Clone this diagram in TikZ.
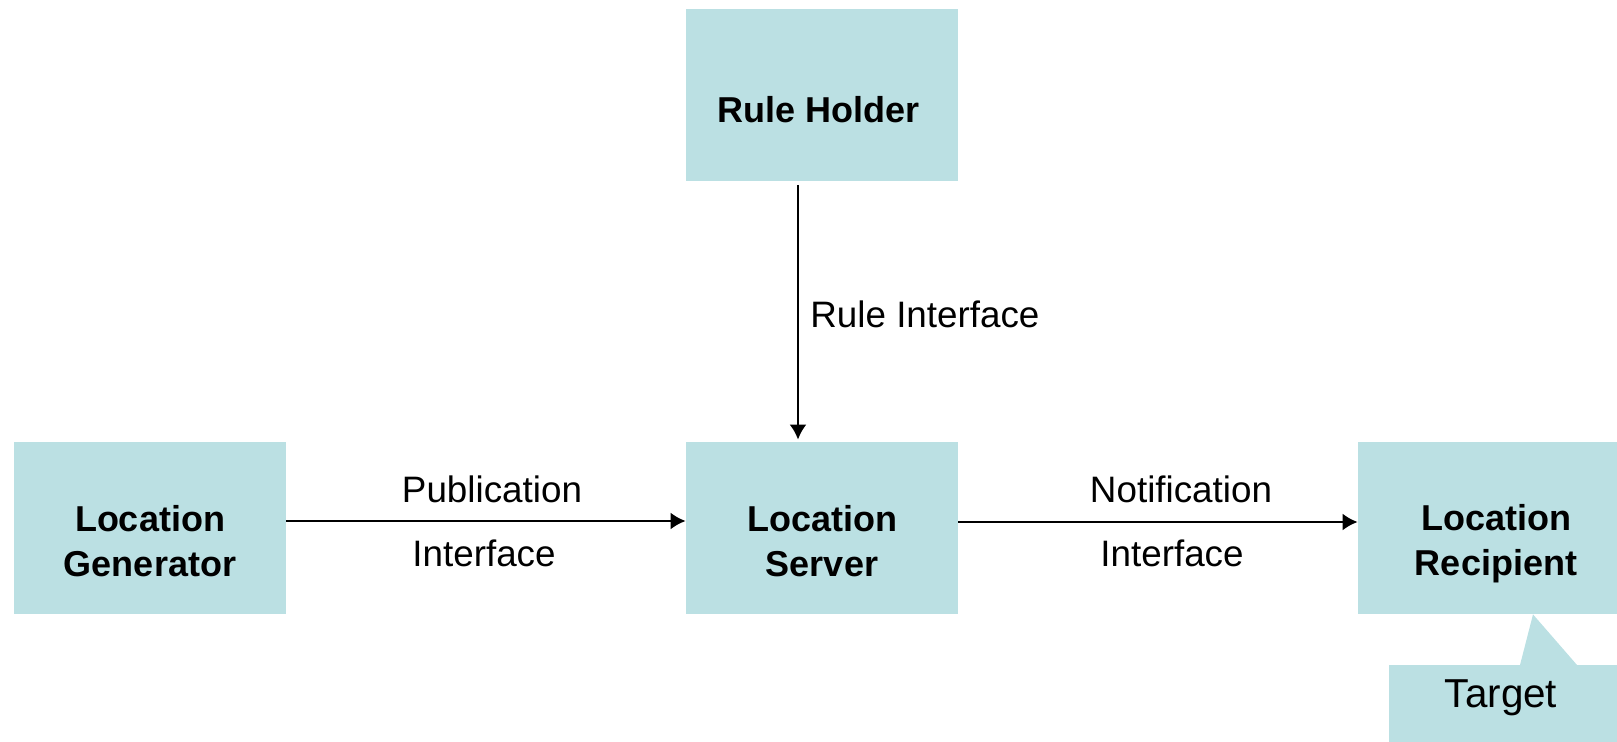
\documentclass[tikz,border=0pt]{standalone}
\usepackage{fontspec}
\setmainfont{Liberation Sans}
\usetikzlibrary{arrows.meta}
\definecolor{boxfill}{RGB}{187,224,227}

\begin{document}
\begin{tikzpicture}[x=0.5pt,y=-0.5pt,
    block/.style={fill=boxfill, minimum width=136pt, minimum height=86pt, inner sep=0pt},
    blocktext/.style={align=center, inner sep=0pt, font=\fontsize{18}{22.5}\selectfont\bfseries},
    lbl/.style={inner sep=0pt, anchor=base, font=\fontsize{18.4}{22}\selectfont},
    link/.style={line width=1.2pt, -{Latex[length=7.5pt,width=8.5pt]}}]
  \useasboundingbox (0,0) rectangle (1617,742);
  \clip (0,0) rectangle (1617,742);
  % boxes
  \node[block] (rule) at (822,95.5) {};
  \node[block] (gen) at (149.5,528) {};
  \node[block] (server) at (822,528) {};
  \node[block] (recip) at (1494,528) {};
  \node[blocktext, anchor=base] (ruletext) at (819,123) {Rule Holder};
  \node[blocktext] (gentext) at (150,541.5) {Location\\Generator};
  \node[blocktext] (servertext) at (822,541.5) {Location\\Server};
  \node[blocktext] (reciptext) at (1496,543.5) {Location\\Recipient};
  % callout
  \fill[boxfill] ([xshift=19.5pt]recip.south) -- (1520,665) -- (1389,665) -- (1389,760)
    -- (1630,760) -- (1630,665) -- (1577,665) -- cycle;
  \node[lbl, font=\fontsize{20.2}{24}\selectfont] (target) at (1501,707) {Target};
  % interfaces
  \draw[link] ([yshift=3.5pt]gen.east) -- ([yshift=3.5pt]server.west);
  \draw[link] ([yshift=3pt]server.east) -- ([yshift=3pt]recip.west);
  \draw[link, shorten <=1.5pt, shorten >=1pt] ([xshift=-12pt]rule.south) -- ([xshift=-12pt]server.north);
  \node[lbl] (pub) at (492,503) {Publication};
  \node[lbl] (pubif) at (484,567) {Interface};
  \node[lbl] (notif) at (1181,503) {Notification};
  \node[lbl] (notifif) at (1172,567) {Interface};
  \node[lbl, anchor=base west] (ruleif) at (810,328) {Rule Interface};
\end{tikzpicture}
\end{document}
